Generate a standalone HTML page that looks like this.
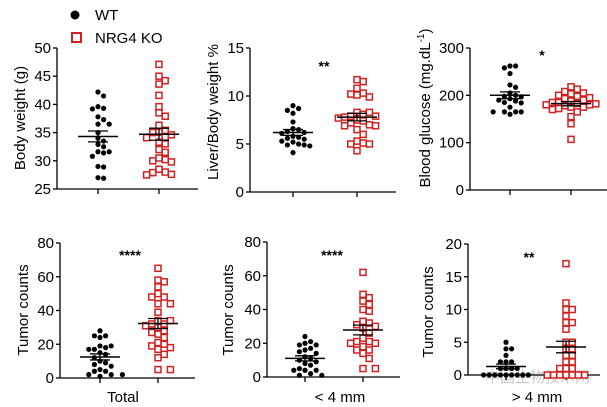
<!DOCTYPE html>
<html><head><meta charset="utf-8"><style>
body{margin:0;background:#fff;}
svg{display:block;font-family:"Liberation Sans","Noto Sans CJK SC",sans-serif;}
</style></head><body>
<svg id="c" width="607" height="407" viewBox="0 0 607 407">
<g>
<circle cx="75" cy="15" r="4.5" fill="#000"/>
<text x="95" y="20" font-size="15">WT</text>
<rect x="72" y="33" width="9" height="9" fill="none" stroke="#d02020" stroke-width="2"/>
<text x="95" y="43" font-size="15">NRG4 KO</text>
</g>
<text x="485" y="382" font-size="15" fill="#bbb" opacity="0.8">中国生物技术网</text>
</svg>
<script>
const wtBody=[42.2,41.5,39.6,39.3,39.2,37.8,37.3,36.5,36.5,35,34,33.5,32.9,32.5,31.6,31.6,31.4,30.8,29,28.9,27,26.9];
const koBody=[47.1,45,44.2,43.6,41.6,39.6,38.5,37.9,36.3,35.4,35.1,35,34.6,34.2,34.1,33.3,33,32,31.5,30.5,30.2,30,29.8,28.5,28,27.9,27.6,27.5];
const wtLiver=[9,8.7,8.5,8.2,7.3,6.6,6.5,6.3,6.2,6.1,5.8,5.7,5.6,5.5,5.3,5.2,5,4.9,4.9,4.8,4.1];
const koLiver=[11.7,11.5,10.8,10.3,10.2,10.1,9.9,8.3,8.3,8.1,7.9,7.9,7.8,7.7,7.5,7.4,7.2,7,6.9,6.9,6.5,6,5.3,5.1,5,5,4.3];
const wtGlu=[262,262,258,246,222,217,205,200,198,197,193,190,188,185,184,175,165,165,165,165,160];
const koGlu=[218,213,208,205,203,200,198,195,193,190,188,185,185,183,182,180,180,178,175,175,172,170,165,155,140,107];
const wtTotal=[28,25,25,24,19,19,18,17,17,15,14,12,10,9,8,7,5,4,4,2,2,2,1];
const koTotal=[65,58,57,54,50,48,48,44,44,39,34,34,32,32,31,30,28,27,26,24,21,20,19,18,17,14,12,5,5];
const wtSmall=[24,21,20,19,19,17,16,15,14,12,11,10,9,8,7,5,4,4,4,2,1,1];
const koSmall=[62,49,47,45,43,40,39,33,32,31,30,29,26,23,21,21,20,20,18,16,16,14,11,5,5];
const wtLarge=[5,4,4,3,2,2,2,1,1,1,1,0,0,0,0,0,0,0,0,0];
const koLarge=[17,11,10,10,9,8,8,7,5,5,4,4,3,3,2,2,1,1,1,0,0,0,0,0,0,0];
const ticksBody=[25,30,35,40,45,50], ticksLiver=[0,5,10,15], ticksGlu=[0,100,200,300], ticksTumor=[0,20,40,60,80], ticksLarge=[0,5,10,15,20];

const NS='http://www.w3.org/2000/svg', svg=document.getElementById('c');
function mk(tag,attrs,parent){const e=document.createElementNS(NS,tag);for(const k in attrs)e.setAttribute(k,attrs[k]);(parent||svg).appendChild(e);return e;}

const panels=[
 {id:'body-weight',ax:57,top:48,bot:189,right:198,xw:98,xk:159,min:25,max:50,ticks:ticksBody,wt:wtBody,ko:koBody,title:'Body weight (g)',tx:25,ty:118,star:'',sx:0,sy:0,xl:''},
 {id:'liver-ratio',ax:250,top:48,bot:192,right:396,xw:293,xk:357,min:0,max:15,ticks:ticksLiver,wt:wtLiver,ko:koLiver,title:'Liver/Body weight %',tx:218,ty:112,star:'**',sx:324,sy:71,xl:''},
 {id:'blood-glucose',ax:470,top:48,bot:190,right:607,xw:510,xk:571,min:0,max:300,ticks:ticksGlu,wt:wtGlu,ko:koGlu,title:'Blood glucose (mg.dL',tx:430,ty:108,star:'*',sx:542,sy:60,xl:''},
 {id:'tumor-total',ax:60,top:243,bot:378,right:195,xw:100,xk:158,min:0,max:80,ticks:ticksTumor,wt:wtTotal,ko:koTotal,title:'Tumor counts',tx:28,ty:310,star:'****',sx:130,sy:260,xl:'Total',xlx:123},
 {id:'tumor-small',ax:267,top:242,bot:377,right:400,xw:305,xk:363,min:0,max:80,ticks:ticksTumor,wt:wtSmall,ko:koSmall,title:'Tumor counts',tx:233,ty:310,star:'****',sx:332,sy:260,xl:'< 4 mm',xlx:340},
 {id:'tumor-large',ax:468,top:244,bot:375,right:600,xw:506,xk:566,min:0,max:20,ticks:ticksLarge,wt:wtLarge,ko:koLarge,title:'Tumor counts',tx:433,ty:312,star:'**',sx:529,sy:262,xl:'> 4 mm',xlx:537}
];

function swarm(vals,y,cx,d){
 const sorted=vals.slice().sort((a,b)=>b-a), placed=[];
 sorted.forEach(v=>{const py=y(v);let best=0,bestD=-1;
  for(let k=0;k<9;k++){const o=(k%2?1:-1)*Math.ceil(k/2)*d;
   const md=placed.length?Math.min(...placed.map(p=>Math.hypot(p[0]-(cx+o),p[1]-py))):99;
   if(md>=d){best=o;bestD=99;break;}
   if(md>bestD){bestD=md;best=o;}}
  placed.push([cx+best,py]);});
 return placed;
}
function stats(v){const m=v.reduce((a,b)=>a+b,0)/v.length;const sd=Math.sqrt(v.reduce((a,b)=>a+(b-m)*(b-m),0)/(v.length-1));return [m,sd/Math.sqrt(v.length)];}

panels.forEach(p=>{
 const g=mk('g',{});
 
 
 const y=v=>p.bot-(v-p.min)/(p.max-p.min)*(p.bot-p.top);
 const ya=mk('line',{x1:p.ax,y1:p.top,x2:p.ax,y2:p.bot,stroke:'#000','stroke-width':1.3},g);
 
 
 const xa=mk('line',{x1:p.ax,y1:p.bot,x2:p.right,y2:p.bot,stroke:'#000','stroke-width':1.3},g);
 
 
 [p.xw,p.xk].forEach(x=>mk('line',{x1:x,y1:p.bot,x2:x,y2:p.bot+5,stroke:'#000','stroke-width':1.3},g));
 p.ticks.forEach(t=>{
  mk('line',{x1:p.ax-4,y1:y(t),x2:p.ax,y2:y(t),stroke:'#000','stroke-width':1.3},g);
  const tl=mk('text',{x:p.ax-6,y:y(t)+5,'font-size':15,'text-anchor':'end'},g);tl.textContent=t;
  
  
 });
 const tt=mk('text',{x:p.tx,y:p.ty,'font-size':15,'text-anchor':'middle',transform:`rotate(-90 ${p.tx} ${p.ty})`},g);
 tt.textContent=p.title;
 if(p.id==='blood-glucose'){const s=mk('tspan',{'font-size':10,dy:-6},tt);s.textContent='-1';const s2=mk('tspan',{dy:6},tt);s2.textContent=')';}
 
 
 if(p.star){const st=mk('text',{x:p.sx,y:p.sy,'font-size':14,'text-anchor':'middle','font-weight':'bold'},g);st.textContent=p.star;
  
  }
 if(p.xl){const xl=mk('text',{x:p.xlx,y:402,'font-size':15,'text-anchor':'middle'},g);xl.textContent=p.xl;
  
  }
 swarm(p.wt,y,p.xw,5.6).forEach(q=>{const c=mk('circle',{cx:q[0],cy:q[1],r:2.6,fill:'#000'},g);
  
  });
 swarm(p.ko,y,p.xk,6.2).forEach(q=>{const r=mk('rect',{x:q[0]-3,y:q[1]-3,width:6,height:6,fill:'#fff',stroke:'#d02020','stroke-width':1.5},g);
  
  });
 [[p.wt,p.xw],[p.ko,p.xk]].forEach(([v,cx])=>{const [m,se]=stats(v);
  const ml=mk('line',{x1:cx-20,y1:y(m),x2:cx+20,y2:y(m),stroke:'#000','stroke-width':1.5},g);
  
  
  mk('line',{x1:cx,y1:y(m-se),x2:cx,y2:y(m+se),stroke:'#000','stroke-width':1.3},g);
  [m-se,m+se].forEach(e=>mk('line',{x1:cx-10,y1:y(e),x2:cx+10,y2:y(e),stroke:'#000','stroke-width':1.3},g));
 });
});
</script>
</body></html>
